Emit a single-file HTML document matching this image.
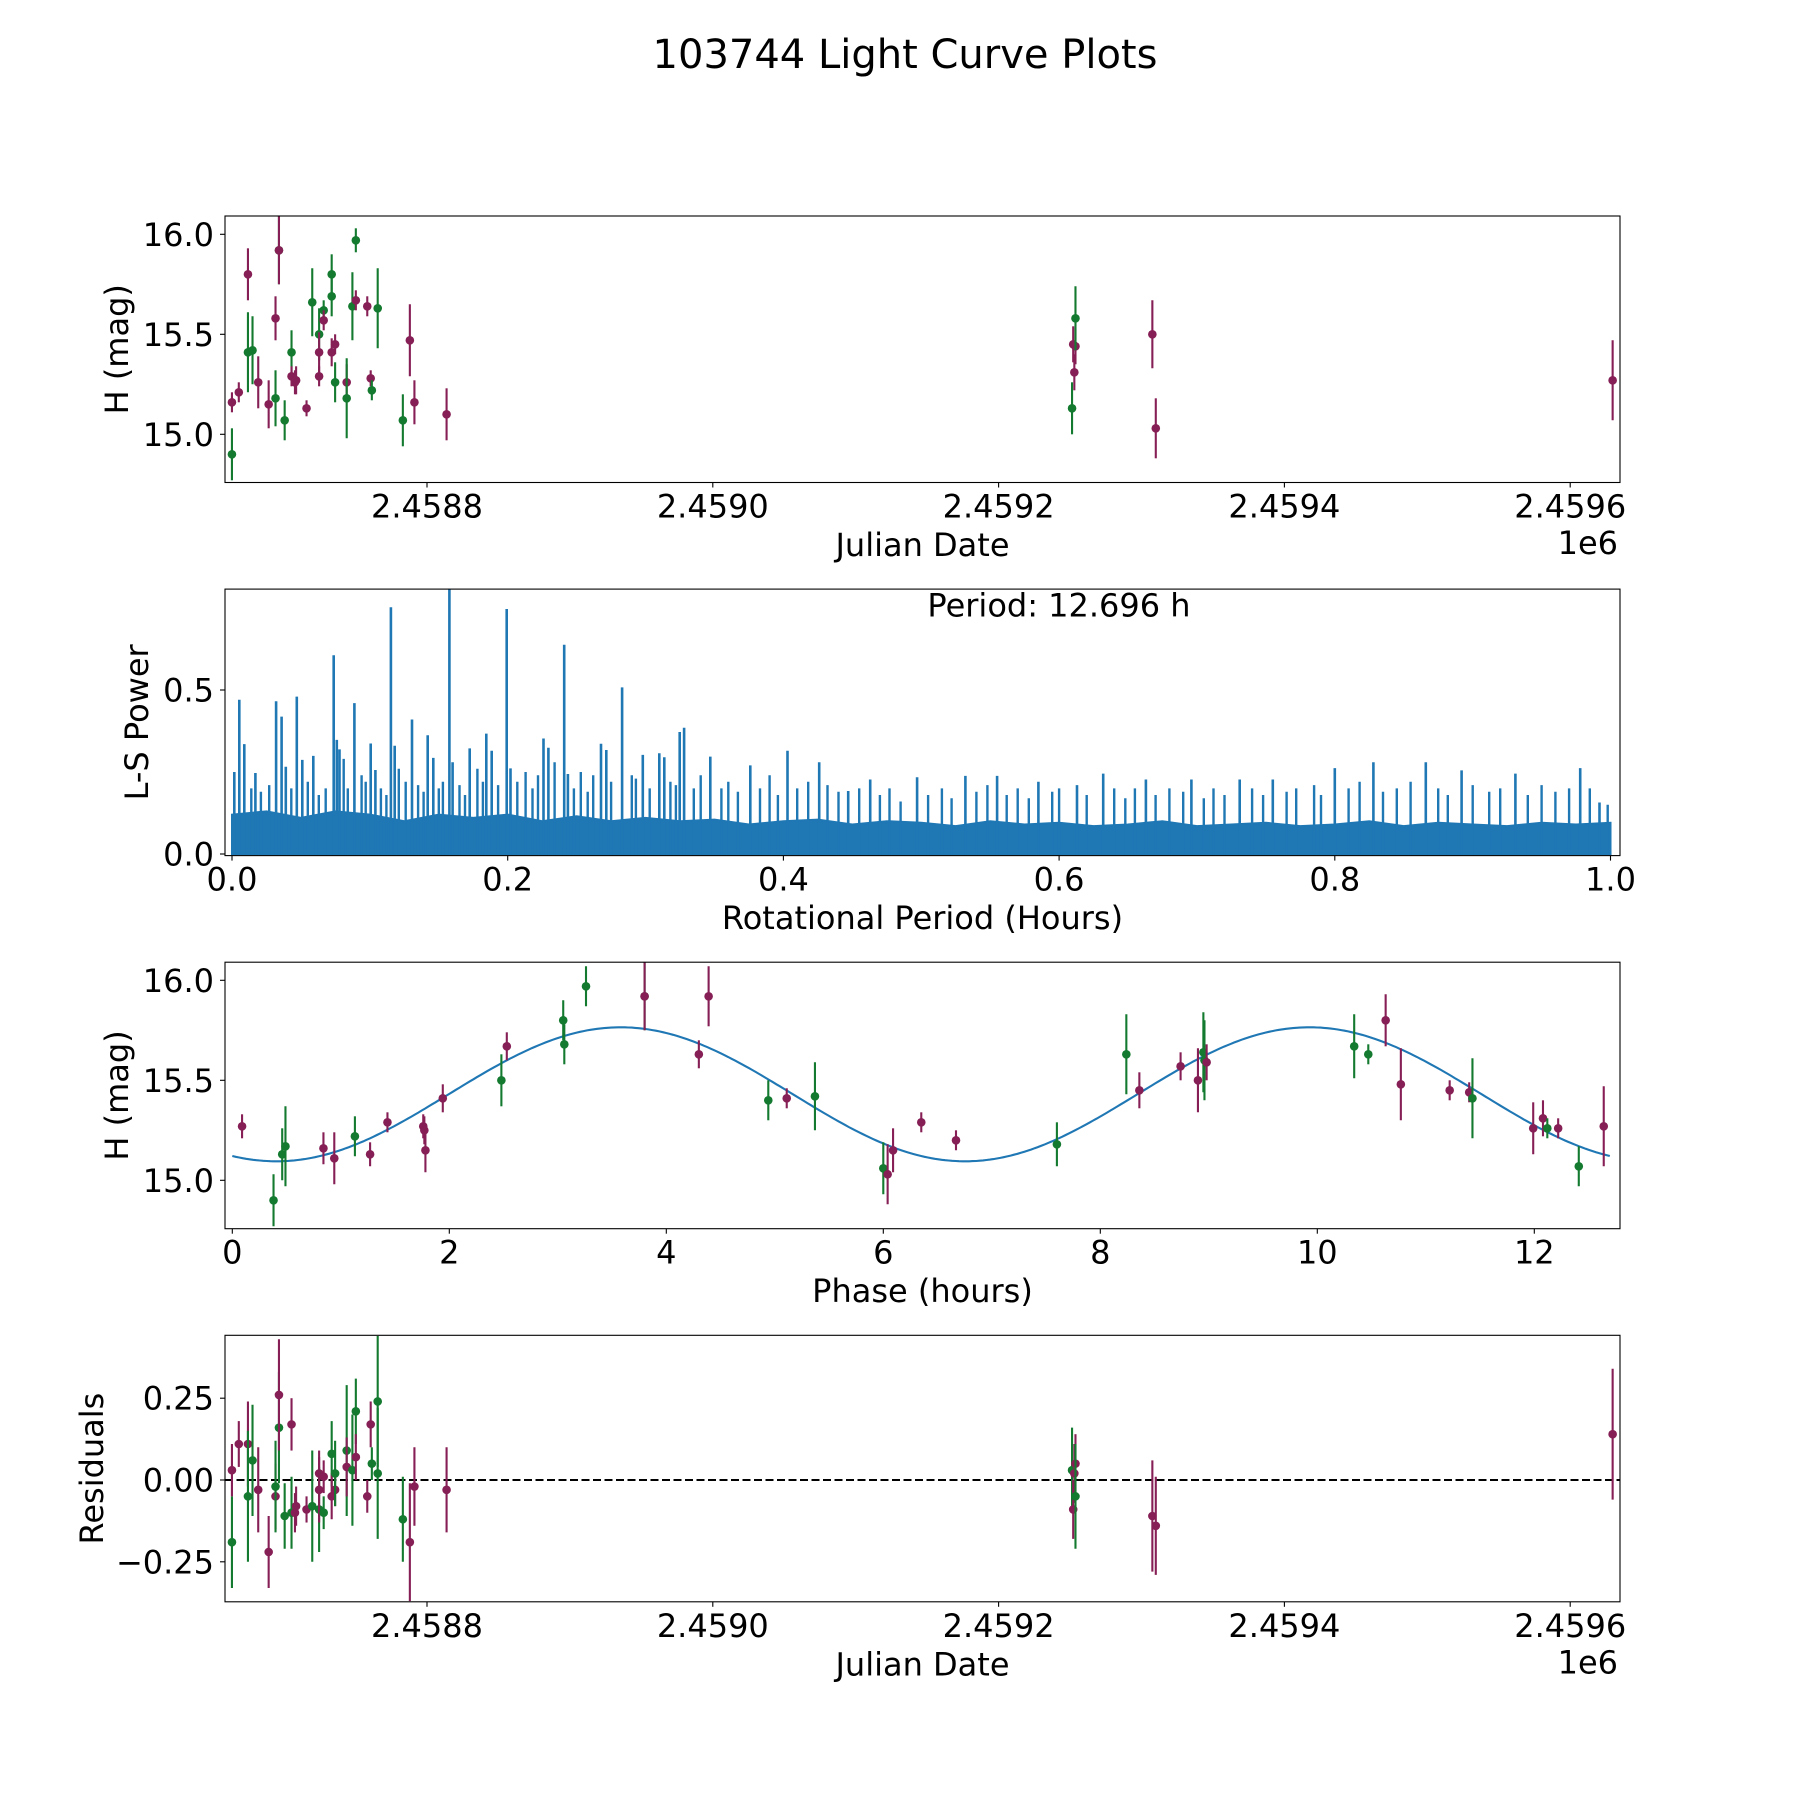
<!DOCTYPE html>
<html><head><meta charset="utf-8">
<style>
html,body{margin:0;padding:0;background:#fff;}
svg{display:block;font-family:"DejaVu Sans","Liberation Sans",sans-serif;}
</style></head>
<body>
<svg id="fig" width="1800" height="1800" viewBox="0 0 1800 1800" xmlns="http://www.w3.org/2000/svg">
<rect width="1800" height="1800" fill="#fff"/>
<text x="905" y="68" font-size="40" text-anchor="middle">103744 Light Curve Plots</text>
</svg>
<script>
// ---------- Panel 1: light curve (Julian date) ----------
const lcJD = [2458663.5,2458663.5,2458668.3,2458674.7,2458674.7,2458677.9,2458681.9,2458689.2,2458694.0,2458694.0,2458696.4,2458696.4,2458700.4,2458705.2,2458705.2,2458708.4,2458707.6,2458715.7,2458719.7,2458724.5,2458724.5,2458724.5,2458727.7,2458727.7,2458733.3,2458733.3,2458733.3,2458735.7,2458735.7,2458743.8,2458743.8,2458747.8,2458750.2,2458750.2,2458758.2,2458760.6,2458761.4,2458765.5,2458783.1,2458788.0,2458791.2,2458813.7,2459251.4,2459252.2,2459253.8,2459253.0,2459253.8,2459307.6,2459310.0,2459629.7];
const lcMag = [14.90,15.16,15.21,15.80,15.41,15.42,15.26,15.15,15.58,15.18,15.92,15.92,15.07,15.41,15.29,15.27,15.26,15.13,15.66,15.50,15.41,15.29,15.62,15.57,15.80,15.69,15.41,15.45,15.26,15.26,15.18,15.64,15.97,15.67,15.64,15.28,15.22,15.63,15.07,15.47,15.16,15.10,15.13,15.45,15.44,15.31,15.58,15.50,15.03,15.27];
const lcErr = [0.13,0.05,0.05,0.13,0.20,0.17,0.13,0.12,0.11,0.14,0.17,0.17,0.10,0.11,0.05,0.07,0.06,0.04,0.17,0.13,0.10,0.05,0.05,0.05,0.10,0.10,0.07,0.05,0.10,0.09,0.20,0.17,0.06,0.05,0.05,0.04,0.05,0.20,0.13,0.18,0.11,0.13,0.13,0.09,0.09,0.09,0.16,0.17,0.15,0.20];
const lcBand = ['G','P','P','P','G','G','P','P','P','G','G','P','G','G','P','P','P','P','G','G','P','P','G','P','G','G','P','P','G','P','G','G','G','P','P','P','G','G','G','P','P','P','G','P','P','P','G','P','P','P'];

// ---------- Panel 2: periodogram ----------
const lsPeakPeriod = [0.0017,0.0053,0.0089,0.017,0.032,0.036,0.039,0.047,0.051,0.059,0.0738,0.076,0.078,0.0888,0.1006,0.104,0.1153,0.118,0.1306,0.142,0.146,0.1577,0.16,0.1724,0.1845,0.1884,0.1993,0.202,0.226,0.2295,0.241,0.2437,0.2677,0.2715,0.283,0.298,0.31,0.3136,0.3248,0.328,0.347,0.376,0.403,0.426,0.447,0.463,0.497,0.532,0.555,0.585,0.613,0.632,0.663,0.696,0.731,0.755,0.8,0.828,0.866,0.892,0.931,0.978,0.992];
const lsPeakPower = [0.25,0.47,0.335,0.247,0.466,0.419,0.266,0.48,0.287,0.299,0.606,0.348,0.319,0.46,0.337,0.256,0.752,0.33,0.41,0.362,0.293,0.83,0.28,0.322,0.367,0.315,0.747,0.261,0.352,0.324,0.638,0.244,0.336,0.317,0.508,0.302,0.307,0.295,0.372,0.385,0.297,0.27,0.315,0.28,0.192,0.227,0.234,0.238,0.238,0.22,0.21,0.245,0.227,0.227,0.227,0.227,0.262,0.28,0.28,0.255,0.245,0.262,0.157];
const lsMinorPeriod = [0.014,0.021,0.027,0.043,0.055,0.063,0.068,0.081,0.084,0.094,0.097,0.108,0.112,0.121,0.126,0.135,0.139,0.15,0.153,0.165,0.169,0.178,0.182,0.193,0.207,0.213,0.218,0.222,0.234,0.248,0.253,0.258,0.262,0.275,0.29,0.293,0.303,0.318,0.322,0.335,0.34,0.355,0.36,0.367,0.383,0.39,0.396,0.41,0.418,0.432,0.44,0.455,0.47,0.477,0.485,0.505,0.515,0.522,0.54,0.548,0.562,0.57,0.578,0.595,0.6,0.62,0.64,0.648,0.655,0.67,0.68,0.69,0.705,0.712,0.72,0.74,0.748,0.765,0.772,0.785,0.79,0.81,0.818,0.835,0.845,0.855,0.875,0.882,0.9,0.912,0.92,0.94,0.95,0.96,0.97,0.985,0.998];
const lsMinorPower = [0.2,0.19,0.21,0.2,0.22,0.18,0.2,0.29,0.2,0.24,0.22,0.2,0.18,0.26,0.22,0.21,0.19,0.2,0.22,0.21,0.18,0.26,0.22,0.21,0.22,0.25,0.2,0.24,0.28,0.2,0.25,0.19,0.24,0.22,0.24,0.23,0.2,0.22,0.21,0.2,0.24,0.2,0.22,0.19,0.2,0.24,0.18,0.2,0.22,0.21,0.19,0.2,0.18,0.2,0.16,0.18,0.2,0.17,0.19,0.21,0.18,0.2,0.17,0.19,0.2,0.18,0.2,0.17,0.2,0.18,0.2,0.19,0.17,0.2,0.18,0.2,0.18,0.19,0.2,0.21,0.18,0.2,0.22,0.19,0.2,0.22,0.2,0.18,0.21,0.19,0.2,0.18,0.21,0.19,0.2,0.2,0.15];
const lsBandPeriod = [0,0.025,0.05,0.075,0.1,0.125,0.15,0.175,0.2,0.225,0.25,0.275,0.3,0.325,0.35,0.375,0.4,0.425,0.45,0.475,0.5,0.525,0.55,0.575,0.6,0.625,0.65,0.675,0.7,0.725,0.75,0.775,0.8,0.825,0.85,0.875,0.9,0.925,0.95,0.975,1.0];
const lsBandPower = [0.12,0.13,0.11,0.13,0.12,0.1,0.12,0.11,0.12,0.1,0.115,0.1,0.11,0.1,0.105,0.09,0.1,0.105,0.09,0.1,0.095,0.085,0.1,0.09,0.095,0.085,0.09,0.1,0.085,0.09,0.095,0.085,0.09,0.1,0.085,0.095,0.09,0.085,0.095,0.09,0.095];
const lsXTicks = [0,0.2,0.4,0.6,0.8,1.0];
const lsXTickLabels = ['0.0','0.2','0.4','0.6','0.8','1.0'];
const lsYTicks = [0,0.5];
const lsYTickLabels = ['0.0','0.5'];

// ---------- Panel 3: phased light curve ----------
const phHours = [0.09,0.38,0.46,0.49,0.84,0.94,1.13,1.27,1.43,1.76,1.77,1.78,1.94,2.48,2.53,3.05,3.06,3.26,3.80,3.80,4.30,4.39,4.94,5.11,5.37,6.00,6.04,6.09,6.35,6.67,7.60,8.24,8.36,8.74,8.90,8.95,8.96,8.98,10.34,10.47,10.63,10.77,11.22,11.40,11.43,11.99,12.08,12.12,12.22,12.41,12.64];
const phMag = [15.27,14.90,15.13,15.17,15.16,15.11,15.22,15.13,15.29,15.27,15.25,15.15,15.41,15.50,15.67,15.80,15.68,15.97,15.92,15.92,15.63,15.92,15.40,15.41,15.42,15.06,15.03,15.15,15.29,15.20,15.18,15.63,15.45,15.57,15.50,15.64,15.60,15.59,15.67,15.63,15.80,15.48,15.45,15.44,15.41,15.26,15.31,15.26,15.26,15.07,15.27];
const phErr = [0.06,0.13,0.13,0.2,0.08,0.13,0.1,0.06,0.05,0.06,0.07,0.11,0.07,0.13,0.07,0.1,0.1,0.1,0.17,0.17,0.07,0.15,0.1,0.05,0.17,0.13,0.15,0.11,0.05,0.05,0.11,0.2,0.09,0.07,0.16,0.2,0.2,0.09,0.16,0.05,0.13,0.18,0.05,0.05,0.2,0.13,0.09,0.05,0.05,0.1,0.2];
const phBand = ['P','G','G','G','P','P','G','P','P','P','P','P','P','G','P','G','G','G','G','P','P','P','G','P','G','G','P','P','P','P','G','G','P','P','P','G','G','P','G','G','P','P','P','P','G','P','P','G','P','G','P'];
const fitMean = 15.43, fitAmp = 0.335, fitHalfPeriod = 6.348, fitT0 = 1.993, fitPeriod = 12.696;

// ---------- Panel 4: residuals ----------
const resJD = [2458663.5,2458663.5,2458668.3,2458674.7,2458674.7,2458677.9,2458681.9,2458689.2,2458694.0,2458694.0,2458696.4,2458696.4,2458700.4,2458705.2,2458705.2,2458707.6,2458708.4,2458715.7,2458719.7,2458724.5,2458724.5,2458724.5,2458727.7,2458727.7,2458733.3,2458733.3,2458735.7,2458735.7,2458743.8,2458743.8,2458747.8,2458750.2,2458750.2,2458758.2,2458760.6,2458761.4,2458765.5,2458765.5,2458783.1,2458788.0,2458791.2,2458813.7,2459251.4,2459252.2,2459253.8,2459253.0,2459253.8,2459307.6,2459310.0,2459629.7];
const resVal = [-0.19,0.03,0.11,0.11,-0.05,0.06,-0.03,-0.22,-0.05,-0.02,0.16,0.26,-0.11,0.17,-0.10,-0.10,-0.08,-0.09,-0.08,0.02,-0.09,-0.03,-0.10,0.01,0.08,-0.05,-0.03,0.02,0.09,0.04,0.03,0.21,0.07,-0.05,0.17,0.05,0.24,0.02,-0.12,-0.19,-0.02,-0.03,0.03,-0.09,0.05,0.02,-0.05,-0.11,-0.14,0.14];
const resErr = [0.14,0.08,0.07,0.13,0.2,0.17,0.13,0.11,0.1,0.14,0.17,0.17,0.1,0.08,0.11,0.06,0.06,0.04,0.17,0.07,0.13,0.1,0.05,0.05,0.1,0.07,0.05,0.1,0.2,0.09,0.17,0.1,0.07,0.05,0.07,0.05,0.2,0.2,0.13,0.18,0.12,0.13,0.13,0.09,0.09,0.09,0.16,0.17,0.15,0.2];
const resBand = ['G','P','P','P','G','G','P','P','P','G','G','P','G','P','G','P','P','P','G','P','G','P','G','P','G','P','P','G','G','P','G','G','P','P','P','G','G','G','G','P','P','P','G','P','P','P','G','P','P','P'];

const jdTicks = [2458800,2459000,2459200,2459400,2459600];
const jdTickLabels = ['2.4588','2.4590','2.4592','2.4594','2.4596'];
const magTicks = [15.0,15.5,16.0];
const magTickLabels = ['15.0','15.5','16.0'];
const phTicks = [0,2,4,6,8,10,12];
const phTickLabels = ['0','2','4','6','8','10','12'];
const resTicks = [-0.25,0,0.25];
const resTickLabels = ['\u22120.25','0.00','0.25'];

const NS = 'http://www.w3.org/2000/svg';
const svg = document.getElementById('fig');
const COL = {G:'#137a2f', P:'#861f55'};
const BLUE = '#1f77b4';
const AX_L = 225, AX_R = 1620;

function mk(tag, attrs, parent){
  const e = document.createElementNS(NS, tag);
  for (const k in attrs) e.setAttribute(k, attrs[k]);
  (parent||svg).appendChild(e);
  return e;
}
function scale(d0,d1,p0,p1){ return v => p0 + (v-d0)*(p1-p0)/(d1-d0); }

function makeAxes(name, top, bottom, clipId){
  const g = mk('g', {});
  
  
  const cp = mk('clipPath', {id: clipId}, g);
  mk('rect', {x: AX_L, y: top, width: AX_R-AX_L, height: bottom-top}, cp);
  const plot = mk('g', {'clip-path': 'url(#'+clipId+')'}, g);
  
  
  return {g, plot, top, bottom};
}
function frame(ax){
  const r = mk('rect', {x: AX_L, y: ax.top, width: AX_R-AX_L, height: ax.bottom-ax.top, fill: 'none', stroke: '#000', 'stroke-width': 1.1}, ax.g);
  
  
}
function xTicks(ax, ticks, labels, sx){
  ticks.forEach((t,i) => {
    const x = sx(t);
    mk('line', {x1:x, x2:x, y1:ax.bottom, y2:ax.bottom+5, stroke:'#000','stroke-width':1.1}, ax.g);
    const tx = mk('text', {x:x, y:ax.bottom+35, 'font-size':32, 'text-anchor':'middle'}, ax.g);
    
    
    tx.textContent = labels[i];
  });
}
function yTicks(ax, ticks, labels, sy){
  ticks.forEach((t,i) => {
    const y = sy(t);
    mk('line', {x1:AX_L-5, x2:AX_L, y1:y, y2:y, stroke:'#000','stroke-width':1.1}, ax.g);
    const tx = mk('text', {x:AX_L-11, y:y+11.5, 'font-size':32, 'text-anchor':'end'}, ax.g);
    
    
    tx.textContent = labels[i];
  });
}
function xLabel(ax, text, name){
  const t = mk('text', {x:(AX_L+AX_R)/2, y:ax.bottom+73.5, 'font-size':32, 'text-anchor':'middle'}, ax.g);
  
  
  t.textContent = text;
}
function yLabel(ax, text, xBase, name){
  const cy = (ax.top+ax.bottom)/2;
  const t = mk('text', {x:xBase, y:cy, 'font-size':32, 'text-anchor':'middle', transform:'rotate(-90 '+xBase+' '+cy+')'}, ax.g);
  
  
  t.textContent = text;
}
function offsetLabel(ax, name){
  const t = mk('text', {x:AX_R-2, y:ax.bottom+71.5, 'font-size':32, 'text-anchor':'end'}, ax.g);
  
  
  t.textContent = '1e6';
}
function errPoint(parent, x, y, yLo, yHi, color){
  const g = mk('g', {}, parent);
  
  
  mk('line', {x1:x, x2:x, y1:yLo, y2:yHi, stroke:color, 'stroke-width':2.1}, g);
  mk('circle', {cx:x, cy:y, r:4.3, fill:color}, g);
}

// ===== Panel 1 =====
const ax1 = makeAxes('light-curve-panel', 216, 482.5, 'c1');
const sx1 = scale(2458800, 2459000, 427, 712.8);
const sy1 = scale(15.0, 16.0, 434.3, 234.3);
lcJD.forEach((jd,i) => {
  errPoint(ax1.plot, sx1(jd), sy1(lcMag[i]), sy1(lcMag[i]-lcErr[i]), sy1(lcMag[i]+lcErr[i]), COL[lcBand[i]]);
});
frame(ax1);
xTicks(ax1, jdTicks, jdTickLabels, sx1);
yTicks(ax1, magTicks, magTickLabels, sy1);
xLabel(ax1, 'Julian Date', 'x-axis-title-julian-date');
offsetLabel(ax1, 'x-axis-offset-1e6');
yLabel(ax1, 'H (mag)', 128, 'y-axis-title-h-mag');

// ===== Panel 2 =====
const ax2 = makeAxes('periodogram-panel', 589.1, 855.6, 'c2');
const sx2 = scale(0, 1, 232, 1610.5);
const sy2 = scale(0, 0.5, 854, 690);
(function(){
  let d = 'M' + sx2(lsBandPeriod[0]).toFixed(1) + ' ' + sy2(0).toFixed(1);
  lsBandPeriod.forEach((p,i) => { d += ' L' + sx2(p).toFixed(1) + ' ' + sy2(lsBandPower[i]).toFixed(1); });
  d += ' L' + sx2(lsBandPeriod[lsBandPeriod.length-1]).toFixed(1) + ' ' + sy2(0).toFixed(1) + ' Z';
  const band = mk('path', {d:d, fill:BLUE, stroke:BLUE, 'stroke-width':2}, ax2.plot);
  
  
  let dm = '';
  lsMinorPeriod.forEach((p,i) => { dm += 'M' + sx2(p).toFixed(1) + ' ' + sy2(0).toFixed(1) + ' V' + sy2(lsMinorPower[i]).toFixed(1) + ' '; });
  const minor = mk('path', {d:dm, stroke:BLUE, 'stroke-width':2.4, fill:'none'}, ax2.plot);
  
  
  let dp = '';
  lsPeakPeriod.forEach((p,i) => { dp += 'M' + sx2(p).toFixed(1) + ' ' + sy2(0).toFixed(1) + ' V' + sy2(lsPeakPower[i]).toFixed(1) + ' '; });
  const peaks = mk('path', {d:dp, stroke:BLUE, 'stroke-width':2.6, fill:'none'}, ax2.plot);
  
  
})();
frame(ax2);
xTicks(ax2, lsXTicks, lsXTickLabels, sx2);
yTicks(ax2, lsYTicks, lsYTickLabels, sy2);
xLabel(ax2, 'Rotational Period (Hours)', 'x-axis-title-rotational-period');
yLabel(ax2, 'L-S Power', 148, 'y-axis-title-ls-power');
(function(){
  const t = mk('text', {x:1059, y:616.7, 'font-size':32, 'text-anchor':'middle'}, ax2.g);
  
  
  t.textContent = 'Period: ' + fitPeriod.toFixed(3) + ' h';
})();

// ===== Panel 3 =====
const ax3 = makeAxes('phased-curve-panel', 962.2, 1228.7, 'c3');
const sx3 = scale(0, 2, 232.3, 449.3);
const sy3 = scale(15.0, 16.0, 1180.3, 980.3);
(function(){
  let d = '';
  const n = 400;
  for (let k=0; k<=n; k++){
    const t = fitPeriod*k/n;
    const m = fitMean + fitAmp*Math.sin(2*Math.PI*(t-fitT0)/fitHalfPeriod);
    d += (k? ' L':'M') + sx3(t).toFixed(1) + ' ' + sy3(m).toFixed(1);
  }
  const c = mk('path', {d:d, fill:'none', stroke:BLUE, 'stroke-width':2.1}, ax3.plot);
  
  
})();
phHours.forEach((ph,i) => {
  errPoint(ax3.plot, sx3(ph), sy3(phMag[i]), sy3(phMag[i]-phErr[i]), sy3(phMag[i]+phErr[i]), COL[phBand[i]]);
});
frame(ax3);
xTicks(ax3, phTicks, phTickLabels, sx3);
yTicks(ax3, magTicks, magTickLabels, sy3);
xLabel(ax3, 'Phase (hours)', 'x-axis-title-phase');
yLabel(ax3, 'H (mag)', 128, 'y-axis-title-h-mag-phased');

// ===== Panel 4 =====
const ax4 = makeAxes('residuals-panel', 1335.3, 1601.8, 'c4');
const sx4 = sx1;
const sy4 = scale(0, 0.25, 1480, 1398.2);
(function(){
  const z = mk('line', {x1:AX_L, x2:AX_R, y1:sy4(0), y2:sy4(0), stroke:'#000', 'stroke-width':2.1, 'stroke-dasharray':'8,3.5'}, ax4.plot);
  
  
})();
resJD.forEach((jd,i) => {
  errPoint(ax4.plot, sx4(jd), sy4(resVal[i]), sy4(resVal[i]-resErr[i]), sy4(resVal[i]+resErr[i]), COL[resBand[i]]);
});
frame(ax4);
xTicks(ax4, jdTicks, jdTickLabels, sx4);
yTicks(ax4, resTicks, resTickLabels, sy4);
xLabel(ax4, 'Julian Date', 'x-axis-title-julian-date-residuals');
offsetLabel(ax4, 'x-axis-offset-1e6-residuals');
yLabel(ax4, 'Residuals', 103, 'y-axis-title-residuals');
</script>
</body></html>
